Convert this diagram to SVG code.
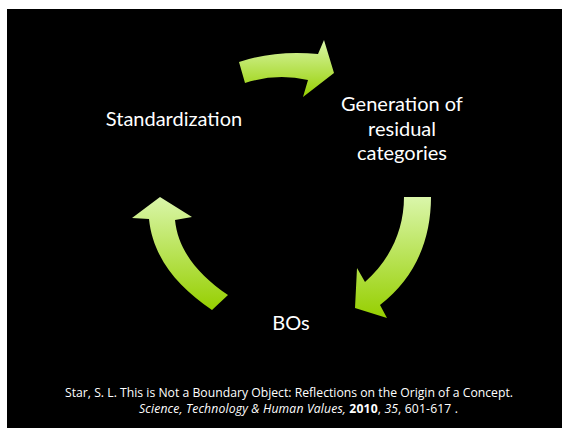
<svg xmlns="http://www.w3.org/2000/svg" width="562" height="428" viewBox="0 0 562 428">
  <defs>
    <linearGradient id="g" x1="0" y1="0" x2="0" y2="1">
      <stop offset="0" stop-color="#daf6aa"/>
      <stop offset="1" stop-color="#96cf00"/>
    </linearGradient>
    <style>
      .lbl { font-family: Lato, "Open Sans", sans-serif; font-size: 20px; fill: #ffffff; text-anchor: middle; }
      .cite { font-family: "Open Sans", "DejaVu Sans", sans-serif; font-size: 12.2px; fill: #ffffff; }
      .arrow { fill: url(#g); }
    </style>
  </defs>
  <rect x="0" y="0" width="562" height="428" fill="#ffffff"/>
  <rect x="7" y="9" width="555" height="419" fill="#000000"/>
  <g id="connectors">
    <path class="arrow" d="M239,62 Q275,50 318,54 L324,40 L334,73 L303,97 L308,80 Q276,73 245,83 Z"/>
    <path class="arrow" d="M404,197 L431,197 C431,240 415,278 380,305 L387,318 L355,308 L357,268 L365,282 C390,260 404,230 404,197 Z"/>
    <path class="arrow" d="M160,197 L192,217 L175,220 C178,250 198,275 228,295 L212,310 C178,287 153,258 149,219 L132,218 Z"/>
  </g>
  <g id="standardization">
    <text class="lbl" x="174" y="126">Standardization</text>
  </g>
  <g id="generation">
    <text class="lbl" x="402" y="111">Generation of</text>
    <text class="lbl" x="402" y="136">residual</text>
    <text class="lbl" x="402" y="160">categories</text>
  </g>
  <g id="bos">
    <text class="lbl" x="291" y="330">BOs</text>
  </g>
  <g id="citation">
    <text class="cite" x="65" y="397" textLength="448" lengthAdjust="spacing">Star, S. L. This is Not a Boundary Object: Reflections on the Origin of a Concept.</text>
    <text class="cite" x="139" y="413" textLength="319" lengthAdjust="spacing"><tspan font-style="italic">Science, Technology &amp; Human Values,</tspan> <tspan font-weight="bold">2010</tspan>, <tspan font-style="italic">35</tspan>, 601-617 .</text>
  </g>
</svg>
